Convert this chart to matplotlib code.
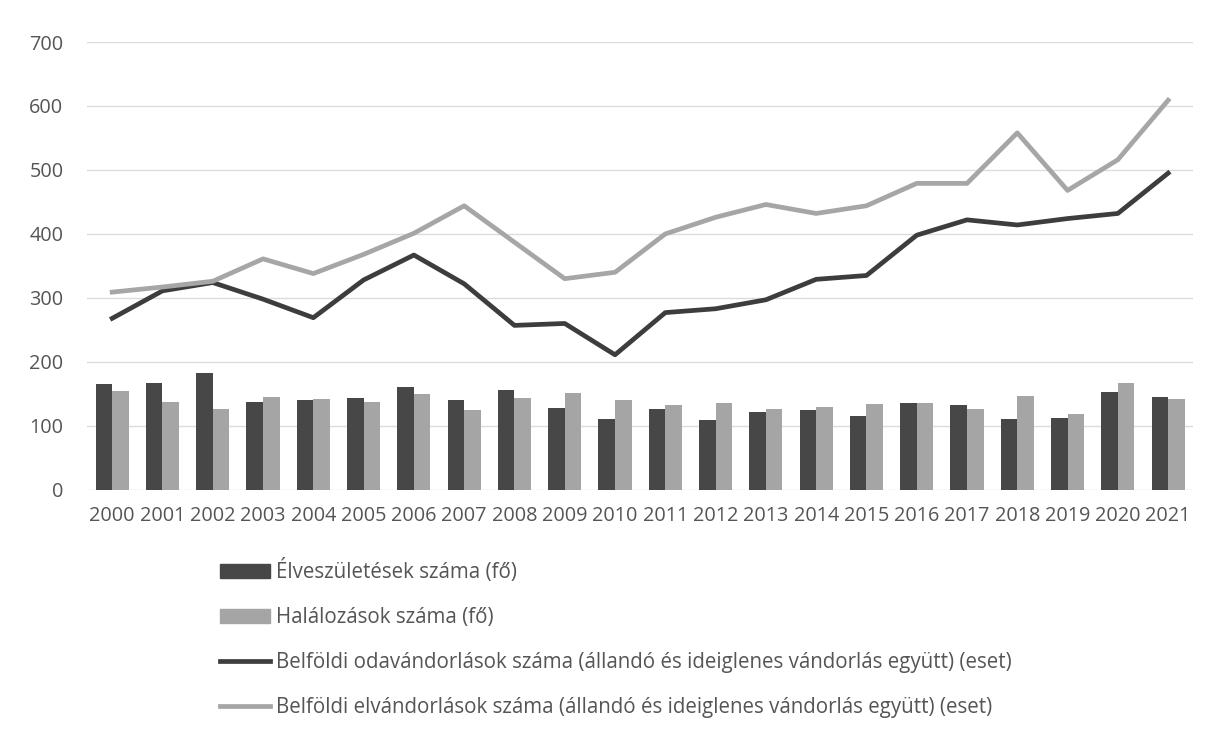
import numpy as np
import matplotlib.pyplot as plt
from matplotlib.patches import Patch
from matplotlib.lines import Line2D

years = [str(y) for y in range(2000, 2022)]
# bars (fő)
elveszuletes = [165, 167, 182, 137, 140, 144, 160, 140, 156, 128, 110, 126, 109, 121, 125,
                116, 135, 132, 111, 112, 153, 145]
halalozas = [155, 137, 127, 145, 142, 137, 150, 124, 143, 151, 141, 133, 135, 126, 130,
             134, 135, 126, 147, 119, 167, 142]
# lines (eset)
odavandorlas = [268, 311, 324, 298, 269, 328, 367, 322, 257, 260, 211, 277, 283, 297, 329,
                335, 398, 422, 414, 424, 432, 495]
elvandorlas = [309, 317, 326, 361, 338, 368, 401, 444, 387, 330, 340, 400, 426, 446, 432,
               444, 479, 479, 558, 468, 516, 609]

legend_labels = ['Élveszületések száma (fő)',
                 'Halálozások száma (fő)',
                 'Belföldi odavándorlások száma (állandó és ideiglenes vándorlás együtt) (eset)',
                 'Belföldi elvándorlások száma (állandó és ideiglenes vándorlás együtt) (eset)']

plt.rcParams['font.family'] = ['Open Sans', 'DejaVu Sans']
txt = '#555555'
c_dark_bar = '#474747'
c_light_bar = '#a5a5a5'
c_dark_line = '#3d3d3d'
c_light_line = '#a6a6a6'

fig = plt.figure(figsize=(12.09, 7.31), dpi=100)
ax = fig.add_axes([0.072, 0.33, 0.915, 0.6125])

x = np.arange(len(years))
w = 0.33
ax.bar(x - w / 2, elveszuletes, w, color=c_dark_bar, zorder=2)
ax.bar(x + w / 2, halalozas, w, color=c_light_bar, zorder=2)
ax.plot(x, odavandorlas, color=c_dark_line, lw=3.4, zorder=3, solid_joinstyle='round')
ax.plot(x, elvandorlas, color=c_light_line, lw=3.4, zorder=3, solid_joinstyle='round')

ax.set_xlim(-0.5, len(years) - 0.5)
ax.set_ylim(0, 700)
ax.set_yticks(range(0, 701, 100))
ax.set_xticks(x)
ax.set_xticklabels(years)
ax.grid(axis='y', color='#dcdcdc', lw=1, zorder=0)
for s in ax.spines.values():
    s.set_visible(False)
ax.tick_params(axis='both', length=0, colors=txt, labelsize=14.3)
ax.tick_params(axis='y', pad=17)
ax.tick_params(axis='x', pad=12)

handles = [Patch(color=c_dark_bar), Patch(color=c_light_bar),
           Line2D([], [], color=c_dark_line, lw=3.4),
           Line2D([], [], color=c_light_line, lw=3.4)]
leg = fig.legend(handles, legend_labels, loc='upper left', bbox_to_anchor=(0.182, 0.235),
                 frameon=False, fontsize=14.8, labelspacing=1.17, handlelength=2.44,
                 handleheight=0.63, handletextpad=0.3, borderpad=0, borderaxespad=0)
for t in leg.get_texts():
    t.set_color(txt)

fig.savefig('out.png', dpi=100)
